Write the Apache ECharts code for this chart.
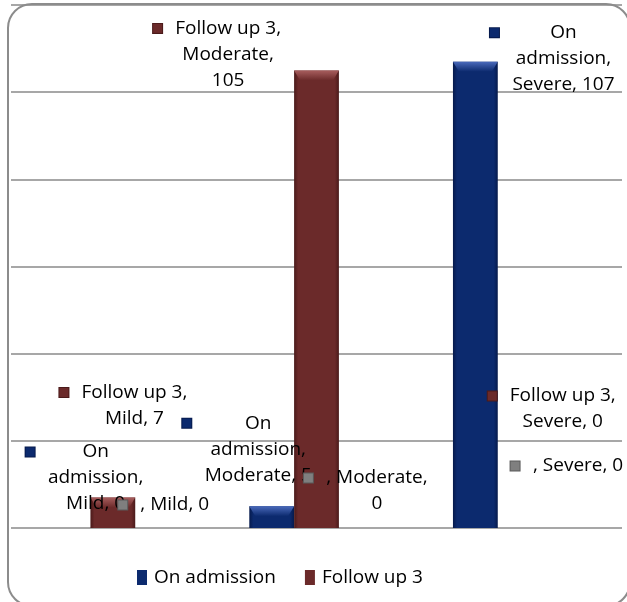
<!DOCTYPE html>
<html>
<head>
<meta charset="utf-8">
<script src="https://cdn.jsdelivr.net/npm/echarts@6/dist/echarts.min.js"></script>
<style>
  html, body { margin: 0; padding: 0; background: #fff; }
  #chart { width: 627px; height: 602px; }
</style>
</head>
<body>
<div id="chart"></div>
<script>
// Patient counts by severity grade
const categories = ['Mild', 'Moderate', 'Severe'];
const seriesNames = ['On admission', 'Follow up 3', ''];
const onAdmission = [0, 5, 107];
const followUp3 = [7, 105, 0];
const thirdSeries = [0, 0, 0];
const valueAxis = { min: 0, max: 120, interval: 20 };

// Styling
const FONT = '"Open Sans", "DejaVu Sans", sans-serif';
const LABEL_SIZE = 19;
const LINE_H = 26;
const CATEGORY_GAP = 0.34;
const colors = ['#0c2a6e', '#6b2a2a', '#7f7f7f'];
const edgeColors = ['#061a4c', '#4a1a1a', '#5a5a5a'];
const capColors = ['#4a6abb', '#a85e5e', '#b0b0b0'];

// Data-label layout: words per wrapped line, and offset from the bar's top-left corner
const labelLines = [
  [[1, 1, 2], [1, 1, 2], [1, 1, 2]],
  [[3, 2], [3, 1, 1], [3, 2]],
  [[3], [2, 1], [3]]
];
const labelShift = [
  [[-20, -89], [-67, -96], [37, -42]],
  [[-31, -118], [-141, -55], [-10, -145]],
  [[-17, -36], [-35, -63], [-32, -75]]
];

const measureCtx = document.createElement('canvas').getContext('2d');
measureCtx.font = LABEL_SIZE + 'px ' + FONT;
const textWidth = s => measureCtx.measureText(s).width;

function wrapLabel(text, counts) {
  const words = text.split(' ');
  const lines = [];
  let i = 0;
  counts.forEach(n => { lines.push(words.slice(i, i + n).join(' ')); i += n; });
  return lines;
}

function barFill(s) {
  return {
    type: 'linear', x: 0, y: 0, x2: 1, y2: 0,
    colorStops: [
      { offset: 0, color: edgeColors[s] },
      { offset: 0.09, color: colors[s] },
      { offset: 0.91, color: colors[s] },
      { offset: 1, color: edgeColors[s] }
    ]
  };
}

function buildSeries(values, s) {
  return {
    name: seriesNames[s],
    type: 'bar',
    barGap: '0%',
    barCategoryGap: (CATEGORY_GAP * 100) + '%',
    itemStyle: { color: barFill(s) },
    data: values.map((v, c) => {
      const lines = wrapLabel(seriesNames[s] + ', ' + categories[c] + ', ' + v, labelLines[s][c]);
      const w = Math.ceil(Math.max.apply(null, lines.map(textWidth))) + 2;
      const text = lines.map((ln, k) => (k === 0 ? '{k|}{g|}' : '{s|}') + '{t|' + ln + '}').join('\n');
      return {
        value: v,
        label: {
          show: true,
          position: labelShift[s][c],
          align: 'left',
          verticalAlign: 'top',
          formatter: text,
          rich: {
            k: { width: 9, height: 9, backgroundColor: colors[s], borderColor: edgeColors[s], borderWidth: 1, lineHeight: LINE_H },
            g: { width: 12, lineHeight: LINE_H },
            s: { width: 21, lineHeight: LINE_H },
            t: { width: w, align: 'center', fontSize: LABEL_SIZE, fontFamily: FONT, color: '#000', lineHeight: LINE_H }
          }
        }
      };
    })
  };
}

// Bevelled caps on the bar tops
const allValues = [onAdmission, followUp3, thirdSeries];
const capData = [];
allValues.forEach((vals, s) => vals.forEach((v, c) => capData.push([c, v, s])));

const capSeries = {
  type: 'custom',
  silent: true,
  z: 2,
  data: capData,
  renderItem(params, api) {
    const c = api.value(0), v = api.value(1), s = api.value(2);
    if (!v) return null;
    const top = api.coord([c, v]);
    const base = api.coord([c, 0]);
    const band = api.size([1, 0])[0];
    const barW = band * (1 - CATEGORY_GAP) / 3;
    const x0 = top[0] - 1.5 * barW + s * barW;
    const x1 = x0 + barW;
    const h = Math.min(10, (base[1] - top[1]) / 2);
    return {
      type: 'polygon',
      z2: 1,
      shape: { points: [[x0, top[1]], [x1, top[1]], [x1 - 6, top[1] + h], [x0 + 6, top[1] + h]] },
      style: {
        fill: {
          type: 'linear', x: 0, y: 0, x2: 0, y2: 1,
          colorStops: [{ offset: 0, color: capColors[s] }, { offset: 1, color: colors[s] }]
        }
      }
    };
  }
};

const chart = echarts.init(document.getElementById('chart'), null, { renderer: 'canvas' });
chart.setOption({
  animation: false,
  backgroundColor: '#fff',
  grid: { left: 11, right: 5, top: 5, bottom: 74, containLabel: false },
  legend: {
    left: 137,
    top: 568,
    padding: 0,
    itemWidth: 10,
    itemHeight: 15,
    itemGap: 29,
    icon: 'rect',
    textStyle: { fontSize: 19, fontFamily: FONT, color: '#000', padding: [0, 0, 0, 2] },
    data: [
      { name: seriesNames[0], itemStyle: { color: colors[0] } },
      { name: seriesNames[1], itemStyle: { color: colors[1] } }
    ]
  },
  xAxis: {
    type: 'category',
    data: categories,
    axisLine: { show: false },
    axisTick: { show: false },
    axisLabel: { show: false }
  },
  yAxis: {
    type: 'value',
    min: valueAxis.min,
    max: valueAxis.max,
    interval: valueAxis.interval,
    axisLine: { show: false },
    axisTick: { show: false },
    axisLabel: { show: false },
    splitLine: { lineStyle: { color: '#8a8a8a', width: 1.5 } }
  },
  graphic: [{
    type: 'rect',
    shape: { x: 8, y: 4, width: 622, height: 602, r: 24 },
    style: { fill: 'none', stroke: '#8c8c8c', lineWidth: 2 },
    silent: true,
    z: 100
  }],
  series: [
    buildSeries(onAdmission, 0),
    buildSeries(followUp3, 1),
    buildSeries(thirdSeries, 2),
    capSeries
  ]
});
</script>
</body>
</html>
